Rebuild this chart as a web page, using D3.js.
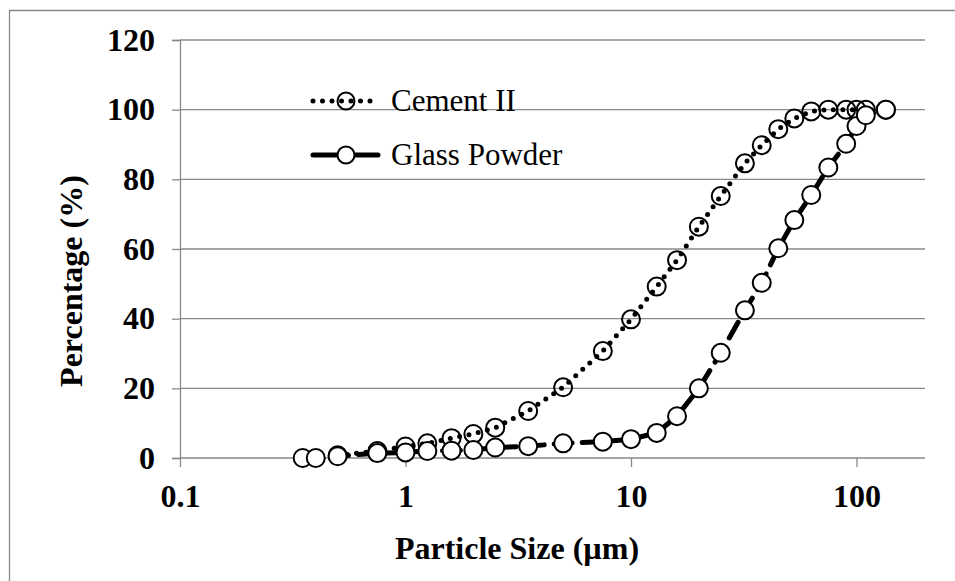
<!DOCTYPE html>
<html>
<head>
<meta charset="utf-8">
<script src="https://cdn.jsdelivr.net/npm/d3@7"></script>
<style>
  body { margin: 0; background: #fff; }
  svg text { font-family: "Liberation Serif", "Times New Roman", serif; }
</style>
</head>
<body>
<div id="chart"></div>
<script>
// particle size distributions
const cementSize = [0.5, 0.75, 1, 1.25, 1.6, 2, 2.5, 3.5, 5, 7.5, 10, 13, 16, 20, 25, 32, 38, 45, 53, 63, 75, 90, 100, 110, 135];
const cementPct  = [0.8, 2.0, 3.3, 4.2, 5.7, 6.9, 8.7, 13.5, 20.3, 30.7, 39.8, 49.2, 56.8, 66.4, 75.2, 84.6, 89.8, 94.4, 97.5, 99.5, 100, 100, 100, 100, 100];

const glassSize = [0.35, 0.4, 0.5, 0.75, 1, 1.25, 1.6, 2, 2.5, 3.5, 5, 7.5, 10, 13, 16, 20, 25, 32, 38, 45, 53, 63, 75, 90, 100, 110, 135];
const glassPct  = [0, 0, 0.5, 1.4, 1.6, 2.0, 2.1, 2.3, 3.0, 3.4, 4.2, 4.7, 5.4, 7.2, 12.0, 20.0, 30.2, 42.4, 50.3, 60.2, 68.3, 75.5, 83.4, 90.2, 95.3, 98.4, 100];

const xTicks = [0.1, 1, 10, 100];
const yTicks = [0, 20, 40, 60, 80, 100, 120];
const seriesNames = ["Cement II", "Glass Powder"];

const width = 955, height = 581;
const margin = {left: 180, top: 40};
const innerWidth = 745, innerHeight = 418;
const gray = "#898989";
const font = "Liberation Serif";

const svg = d3.select("#chart").append("svg")
  .attr("width", width).attr("height", height)
  .attr("font-family", font);

// outer chart frame (only left and top edges fall inside the picture)
svg.append("path")
  .attr("d", `M9.5,${height}V10.5H${width}`)
  .attr("fill", "none").attr("stroke", gray).attr("stroke-width", 1.3);

const g = svg.append("g").attr("transform", `translate(${margin.left},${margin.top})`);

const xScale = d3.scaleLog().domain([0.1, 1000]).range([0, 902]);
const yScale = d3.scaleLinear().domain([0, 120]).range([innerHeight, 0]);

// gridlines
g.selectAll(".grid")
  .data(yTicks.filter(d => d > 0))
  .join("line")
    .attr("x1", 0).attr("x2", innerWidth)
    .attr("y1", d => yScale(d)).attr("y2", d => yScale(d))
    .attr("stroke", gray).attr("stroke-width", 1.3);

// y axis
const yAxis = g.append("g")
  .call(d3.axisLeft(yScale).tickValues(yTicks).tickSize(8).tickPadding(17));
yAxis.select(".domain").attr("stroke", gray).attr("stroke-width", 1.3);
yAxis.selectAll(".tick line").attr("stroke", gray).attr("stroke-width", 1.3);
yAxis.selectAll("text")
  .attr("font-family", font).attr("font-size", 32)
  .attr("font-weight", "bold").attr("fill", "#000");

// x axis
const xAxis = g.append("g")
  .attr("transform", `translate(0,${innerHeight})`)
  .call(d3.axisBottom(xScale).tickValues(xTicks).tickFormat(d => String(d)).tickSize(9).tickPadding(17).tickSizeOuter(0));
xAxis.select(".domain").attr("d", `M0,0H${innerWidth}`).attr("stroke", gray).attr("stroke-width", 1.3);
xAxis.selectAll(".tick line").attr("stroke", gray).attr("stroke-width", 1.3);
xAxis.selectAll("text")
  .attr("font-family", font).attr("font-size", 32)
  .attr("font-weight", "bold").attr("fill", "#000");

// axis titles
svg.append("text")
  .attr("x", 517).attr("y", 559)
  .attr("text-anchor", "middle")
  .attr("font-size", 32).attr("font-weight", "bold")
  .text("Particle Size (µm)");

svg.append("text")
  .attr("transform", "translate(82,281) rotate(-90)")
  .attr("text-anchor", "middle")
  .attr("font-size", 32).attr("font-weight", "bold")
  .text("Percentage (%)");

const lineGen = d3.line()
  .x(d => xScale(d[0]))
  .y(d => yScale(d[1]));

const cementData = cementSize.map((s, i) => [s, cementPct[i]]);
const glassData = glassSize.map((s, i) => [s, glassPct[i]]);

// cement: round dotted line, open markers
g.append("path")
  .datum(cementData)
  .attr("d", lineGen)
  .attr("fill", "none").attr("stroke", "#000")
  .attr("stroke-width", 5).attr("stroke-linecap", "round")
  .attr("stroke-dasharray", "0 9.5");

g.selectAll(".cem")
  .data(cementData)
  .join("circle")
    .attr("class", "cem")
    .attr("cx", d => xScale(d[0])).attr("cy", d => yScale(d[1]))
    .attr("r", 9)
    .attr("fill", "none").attr("stroke", "#000").attr("stroke-width", 2);

// glass powder: long dash line, white markers
g.append("path")
  .datum(glassData)
  .attr("d", lineGen)
  .attr("fill", "none").attr("stroke", "#000")
  .attr("stroke-width", 5).attr("stroke-linecap", "round")
  .attr("stroke-dasharray", "18 10");

g.selectAll(".gla")
  .data(glassData)
  .join("circle")
    .attr("class", "gla")
    .attr("cx", d => xScale(d[0])).attr("cy", d => yScale(d[1]))
    .attr("r", 9)
    .attr("fill", "#fff").attr("stroke", "#000").attr("stroke-width", 2);

// legend
const legend = svg.append("g");
const legendRows = [
  {name: seriesNames[0], y: 101, dash: "0 9.5", sw: 5, fill: "none"},
  {name: seriesNames[1], y: 155, dash: "25 17 25", sw: 5, fill: "#fff"}
];
legendRows.forEach(r => {
  legend.append("line")
    .attr("x1", 313).attr("x2", 378)
    .attr("y1", r.y).attr("y2", r.y)
    .attr("stroke", "#000").attr("stroke-width", r.sw)
    .attr("stroke-linecap", "round")
    .attr("stroke-dasharray", r.dash);
  legend.append("circle")
    .attr("cx", 346).attr("cy", r.y).attr("r", 8.5)
    .attr("fill", r.fill).attr("stroke", "#000").attr("stroke-width", 2);
  legend.append("text")
    .attr("x", 391).attr("y", r.y + 10)
    .attr("font-family", font)
    .attr("font-size", 31)
    .text(r.name);
});
</script>
</body>
</html>
